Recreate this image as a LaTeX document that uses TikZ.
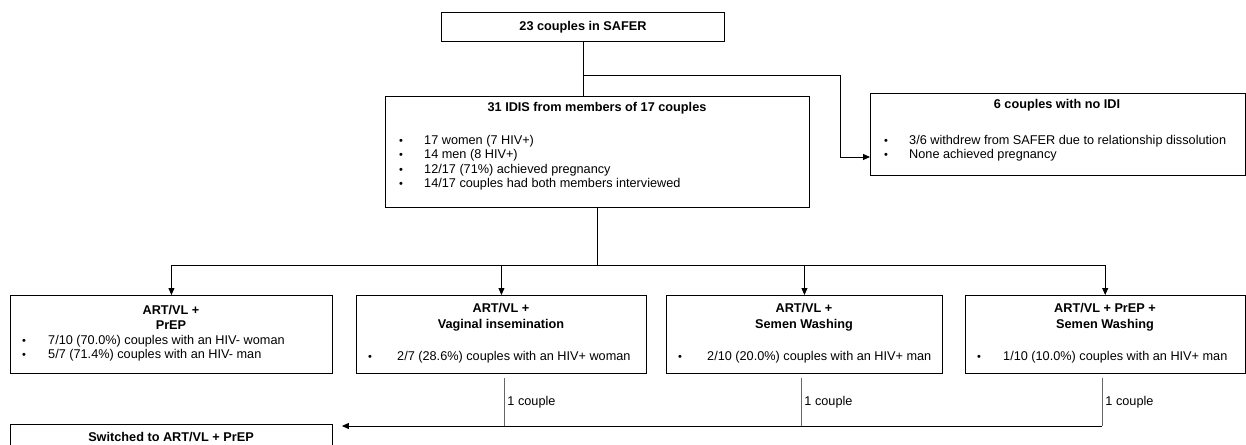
\documentclass[tikz,border=0pt]{standalone}
\usepackage{fontspec}
\setmainfont{Liberation Sans}
\usetikzlibrary{arrows.meta, positioning}
\tikzset{
    >={Triangle[length=7pt, width=6pt]},
    every node/.style={font=\fontsize{12.7}{14.5}\selectfont},
    box/.style={draw, line width=0.9pt, anchor=north west, inner sep=0pt},
    head/.style={font=\fontsize{12.7}{15.5}\selectfont\bfseries, align=center, inner sep=0pt},
    item/.style={anchor=west, inner sep=0pt},
    flow/.style={->, line width=0.9pt},
    couple/.style={line width=0.9pt, black!60},
    tag/.style={anchor=west, inner sep=0pt, xshift=3pt, text=black}
}
\newcommand{\bulline}[2][25pt]{\makebox[#1][l]{\fontsize{11}{11}\selectfont\textbullet}#2}

\begin{document}
\begin{tikzpicture}[x=1pt, y=-1pt]
    \useasboundingbox (0,0) rectangle (1246,444);

    % top
    \node[box, head, minimum width=283pt, minimum height=29pt] (safer) at (441,12) {23 couples in SAFER};

    \node[box, minimum width=424pt, minimum height=111pt] (idi) at (385,96) {};
    \node[head] (idi-t) at (597,108) {31 IDIS from members of 17 couples};
    \node[item] (idi-1) at (399,141) {\bulline{17 women (7 HIV+)}};
    \node[item] (idi-2) at (399,155.5) {\bulline{14 men (8 HIV+)}};
    \node[item] (idi-3) at (399,170) {\bulline{12/17 (71\%) achieved pregnancy}};
    \node[item] (idi-4) at (399,184.5) {\bulline{14/17 couples had both members interviewed}};

    \node[box, minimum width=375pt, minimum height=82pt] (nodi) at (870,93) {};
    \node[head] (nodi-t) at (1057,105) {6 couples with no IDI};
    \node[item] (nodi-1) at (884,141) {\bulline{3/6 withdrew from SAFER due to relationship dissolution}};
    \node[item] (nodi-2) at (884,155.5) {\bulline{None achieved pregnancy}};

    % strategies
    \node[box, minimum width=322pt, minimum height=78pt] (b1) at (10,295) {};
    \node[head] (b1-t) at (171,317.5) {ART/VL +\\PrEP};
    \node[item] (b1-1) at (22,341) {\bulline[26pt]{7/10 (70.0\%) couples with an HIV- woman}};
    \node[item] (b1-2) at (22,355.5) {\bulline[26pt]{5/7 (71.4\%) couples with an HIV- man}};

    \node[box, minimum width=290pt, minimum height=78pt] (b2) at (356,295) {};
    \node[head] (b2-t) at (501,317) {ART/VL +\\Vaginal insemination};
    \node[item] (b2-1) at (368,357) {\bulline[29pt]{2/7 (28.6\%) couples with an HIV+ woman}};

    \node[box, minimum width=276pt, minimum height=78pt] (b3) at (666,295) {};
    \node[head] (b3-t) at (804,317) {ART/VL +\\Semen Washing};
    \node[item] (b3-1) at (678,357) {\bulline[29pt]{2/10 (20.0\%) couples with an HIV+ man}};

    \node[box, minimum width=279.5pt, minimum height=78pt] (b4) at (965,295) {};
    \node[head] (b4-t) at (1105,317) {ART/VL + PrEP +\\Semen Washing};
    \node[item] (b4-1) at (977,357) {\bulline[26pt]{1/10 (10.0\%) couples with an HIV+ man}};

    \node[box, minimum width=322pt, minimum height=40pt] (sw) at (10,424) {};
    \node[head] (sw-t) at (171,437) {Switched to ART/VL + PrEP};

    % connectors
    \coordinate (split) at ([yshift=-34pt]safer.south);
    \coordinate (bend) at (840,157);
    \coordinate (hub) at ([yshift=-58pt]idi.south);
    \coordinate (c2) at (504,426);
    \coordinate (c3) at (801,426);
    \coordinate (c4) at (1102,426);

    \draw[line width=0.9pt] (safer.south) -- (safer.south |- idi.north);
    \draw[flow] (split) -| (bend) -- (bend -| nodi.west);
    \draw[line width=0.9pt] (idi.south) -- (hub);
    \foreach \b in {b1,b2,b3,b4}
        \draw[flow] (hub) -| (\b.north);

    \draw[couple] (b2.south -| c2) ++(0,4) -- (c2) node[midway, tag] (l2) {1 couple};
    \draw[couple] (b3.south -| c3) ++(0,4) -- (c3) node[midway, tag] (l3) {1 couple};
    \draw[couple] (b4.south -| c4) ++(0,4) -- (c4) node[midway, tag] (l4) {1 couple};
    \draw[flow] (c4) -- ([xshift=9pt]c4 -| sw.east);
\end{tikzpicture}
\end{document}
